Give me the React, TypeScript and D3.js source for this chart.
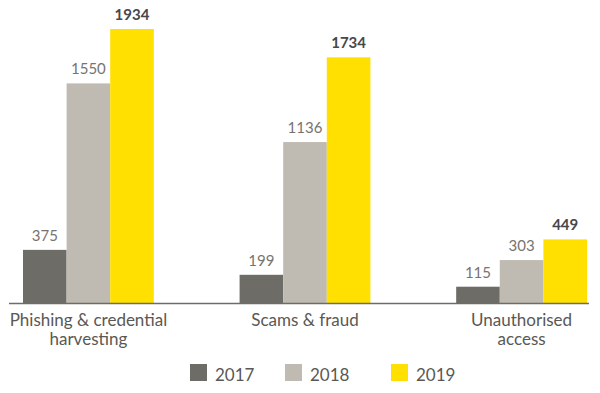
import { useEffect, useRef } from "react"
import * as d3 from "d3"

const categories = ["Phishing & credential\nharvesting", "Scams & fraud", "Unauthorised\naccess"]
const years = ["2017", "2018", "2019"]
const values2017 = [375, 199, 115]
const values2018 = [1550, 1136, 303]
const values2019 = [1934, 1734, 449]
const colors = ["#6e6c66", "#bfbbb2", "#ffe000"]

const App = () => {
  const svgRef = useRef<SVGSVGElement>(null)

  useEffect(() => {
    const width = 600
    const height = 393
    const baseline = 303
    const font = "Lato, 'Noto Sans', sans-serif"
    const series = [values2017, values2018, values2019]

    const svg = d3.select(svgRef.current)
    svg.selectAll("*").remove()

    // outer band per category, inner band per year
    const x0 = d3.scaleBand().domain(categories).range([23, 587]).paddingInner(0.396)
    const x1 = d3.scaleBand().domain(years).range([0, x0.bandwidth()])
    const y = d3.scaleLinear().domain([0, 1934]).range([baseline, 29])

    const group = svg
      .selectAll(".grp")
      .data(categories)
      .enter()
      .append("g")
      .attr("transform", (d) => `translate(${x0(d)},0)`)

    group.each(function (cat, ci) {
      const g = d3.select(this)
      years.forEach((yr, yi) => {
        const v = series[yi][ci]
        g.append("rect")
          .attr("x", x1(yr)!)
          .attr("y", y(v))
          .attr("width", x1.bandwidth())
          .attr("height", baseline - y(v))
          .attr("fill", colors[yi])
        g.append("text")
          .attr("x", x1(yr)! + x1.bandwidth() / 2)
          .attr("y", y(v) - 9)
          .attr("text-anchor", "middle")
          .style("font-family", font)
          .style("font-size", "15px")
          .style("font-weight", yi === 2 ? "bold" : "normal")
          .attr("fill", yi === 2 ? "#48474a" : "#77746f")
          .text(v)
      })
      // category label, can be two lines
      const label = g
        .append("text")
        .attr("text-anchor", "middle")
        .style("font-family", font)
        .style("font-size", "17px")
        .attr("fill", "#5a5854")
      cat.split("\n").forEach((line, i) => {
        label
          .append("tspan")
          .attr("x", x0.bandwidth() / 2)
          .attr("y", 326 + i * 19)
          .text(line)
      })
    })

    // axis line
    svg.append("line")
      .attr("x1", 9)
      .attr("x2", 589)
      .attr("y1", baseline + 0.5)
      .attr("y2", baseline + 0.5)
      .attr("stroke", "#6e6c66")
      .attr("stroke-width", 1.5)

    // legend
    const legendX = [190, 285, 391]
    years.forEach((yr, i) => {
      svg.append("rect")
        .attr("x", legendX[i])
        .attr("y", 364)
        .attr("width", 17)
        .attr("height", 17)
        .attr("fill", colors[i])
      svg.append("text")
        .attr("x", legendX[i] + 25)
        .attr("y", 381)
        .style("font-family", font)
        .style("font-size", "17px")
        .attr("fill", "#5a5854")
        .text(yr)
    })

    svg.attr("width", width).attr("height", height)
  }, [])

  return (
    <div style={{ position: "absolute", left: 0, top: 0 }}>
      <svg ref={svgRef} width={600} height={393} style={{ display: "block", background: "#fff" }}></svg>
    </div>
  )
}

export default App
